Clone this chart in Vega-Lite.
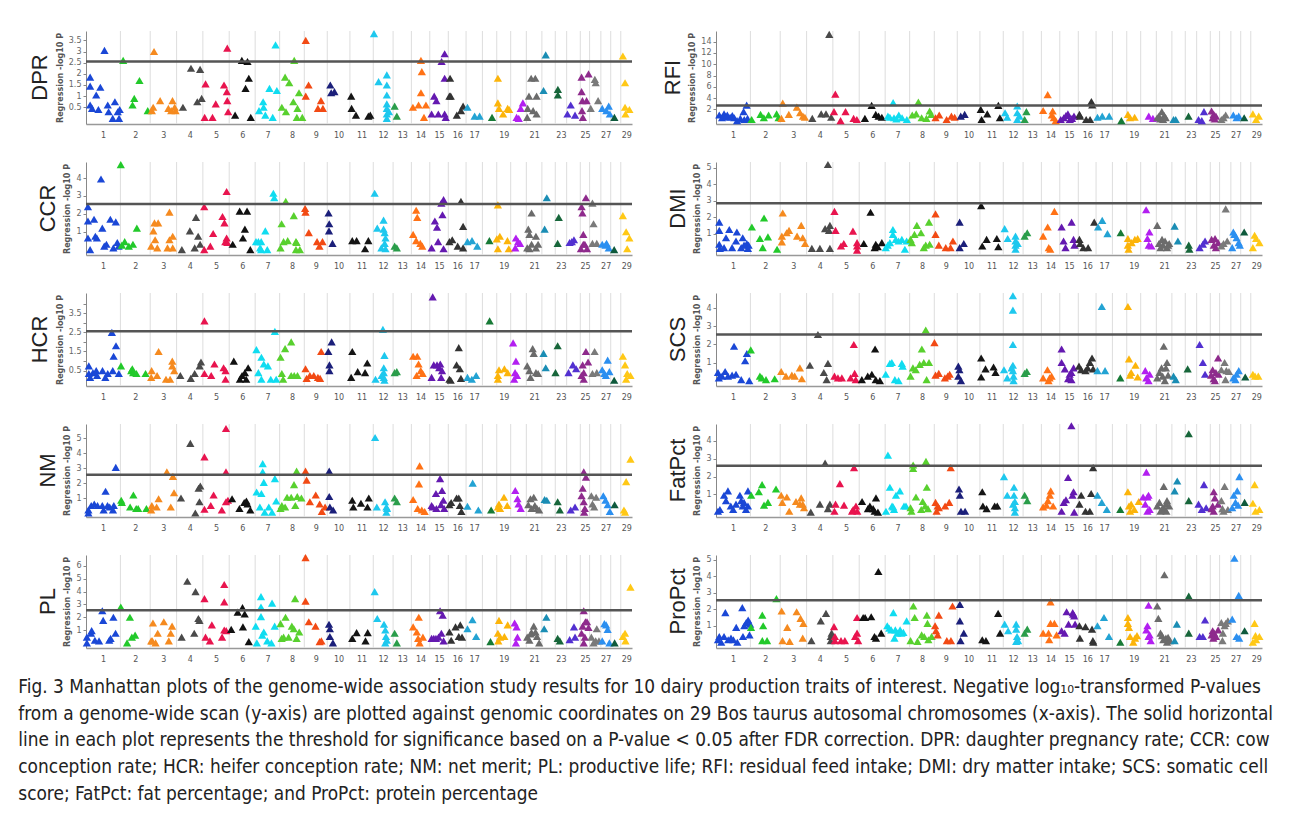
{
"$schema":"https://vega.github.io/schema/vega-lite/v6.json",
"background":"white",
"padding":{"left":18,"top":30,"right":5,"bottom":5},
"config":{
 "view":{"stroke":null},
 "point":{"shape":"triangle-up","filled":true,"size":68,"opacity":1},
 "range":{"category":["#1a47d6","#22c92a","#f58a1f","#4a4a4a","#e8144e","#111111","#10dcf0","#58d02e","#f24a14","#1b1f7a","#151515","#1ec8ee","#2a9d4a","#ff7216","#6419b0","#333333","#23a3d3","#177a36","#fcb40a","#b21ff0","#6b6b6b","#1a8db4","#17663a","#5230d0","#8e2a8c","#7a7a7a","#2b8ff0","#0e5a3c","#ffc816"]},
 "title":{"orient":"left","anchor":"middle","frame":"group","fontSize":22,"font":"Liberation Sans","fontWeight":"normal","color":"#222222","offset":4},
 "axisY":{"labelFont":"DejaVu Sans","labelFontSize":8,"labelColor":"#666666","labelOverlap":false,"tickSize":3,"tickColor":"#888888","domainColor":"#888888","titleFont":"DejaVu Sans","titleFontSize":8,"titleFontWeight":"bold","titleColor":"#555555","grid":false,"titlePadding":4,"labelPadding":2},
 "axisX":{"labelFont":"DejaVu Sans","labelFontSize":8,"labelColor":"#555555","ticks":false,"domainColor":"#999999","domainWidth":1.5,"grid":false,"labelPadding":7,"labelOverlap":false,"labelFlush":false,"title":null}
},
"title":{"text":["Fig. 3 Manhattan plots of the genome-wide association study results for 10 dairy production traits of interest. Negative log₁₀-transformed P-values","from a genome-wide scan (y-axis) are plotted against genomic coordinates on 29 Bos taurus autosomal chromosomes (x-axis). The solid horizontal","line in each plot represents the threshold for significance based on a P-value < 0.05 after FDR correction. DPR: daughter pregnancy rate; CCR: cow","conception rate; HCR: heifer conception rate; NM: net merit; PL: productive life; RFI: residual feed intake; DMI: dry matter intake; SCS: somatic cell","score; FatPct: fat percentage; and ProPct: protein percentage"],"orient":"bottom","anchor":"start","frame":"bounds","font":"DejaVu Sans Condensed","fontSize":18.9,"fontWeight":"normal","color":"#222222","lineHeight":26.7,"offset":15,"dx":-11},
"datasets":{
"bounds":[{"x":158.3},{"x":295.4},{"x":416.8},{"x":537.6},{"x":658.8},{"x":778.3},{"x":890.9},{"x":1004.3},{"x":1110},{"x":1214.3},{"x":1321.6},{"x":1412.8},{"x":1497},{"x":1581.6},{"x":1666.9},{"x":1748.6},{"x":1823.8},{"x":1889.8},{"x":1953.9},{"x":2025.9},{"x":2097.5},{"x":2158.9},{"x":2211.4},{"x":2274.1},{"x":2317},{"x":2368.7},{"x":2414.1},{"x":2460.4}],
"DPR":[{"c":1,"x":19,"v":1.85},{"c":1,"x":19,"v":1.45},{"c":1,"x":66,"v":1.4},{"c":1,"x":47,"v":1.05},{"c":1,"x":19,"v":0.6},{"c":1,"x":28,"v":0.45},{"c":1,"x":57,"v":0.4},{"c":1,"x":85,"v":3.05},{"c":1,"x":100,"v":0.6},{"c":1,"x":104,"v":0.3},{"c":1,"x":133,"v":0.75},{"c":1,"x":123,"v":0},{"c":1,"x":152,"v":0},{"c":1,"x":155,"v":0.4},{"c":1,"x":146,"v":0.3},
{"c":2,"x":171,"v":2.6},{"c":2,"x":214,"v":0.6},{"c":2,"x":222,"v":0.9},{"c":2,"x":246,"v":1.7},{"c":2,"x":284,"v":0.35},
{"c":3,"x":313,"v":3.0},{"c":3,"x":303,"v":0.35},{"c":3,"x":309,"v":0.5},{"c":3,"x":341,"v":0.8},{"c":3,"x":379,"v":0.45},{"c":3,"x":398,"v":0.8},{"c":3,"x":408,"v":0.5},{"c":3,"x":412,"v":0.35},{"c":3,"x":392,"v":0.35},
{"c":4,"x":446,"v":0.5},{"c":4,"x":483,"v":2.25},{"c":4,"x":525,"v":2.2},{"c":4,"x":512,"v":0.75},{"c":4,"x":532,"v":0.9},
{"c":5,"x":550,"v":1.55},{"c":5,"x":546,"v":0.05},{"c":5,"x":582,"v":0.05},{"c":5,"x":597,"v":0.65},{"c":5,"x":635,"v":1.5},{"c":5,"x":650,"v":3.15},{"c":5,"x":648,"v":1.2},{"c":5,"x":650,"v":0.8},{"c":5,"x":654,"v":0.3},
{"c":6,"x":686,"v":0.15},{"c":6,"x":717,"v":2.6},{"c":6,"x":743,"v":2.55},{"c":6,"x":734,"v":1.35},{"c":6,"x":749,"v":1.8},{"c":6,"x":758,"v":0.05},
{"c":7,"x":796,"v":0.35},{"c":7,"x":815,"v":0.75},{"c":7,"x":817,"v":0.5},{"c":7,"x":825,"v":0.15},{"c":7,"x":844,"v":1.35},{"c":7,"x":859,"v":0.05},{"c":7,"x":872,"v":3.3},{"c":7,"x":878,"v":1.25},
{"c":8,"x":901,"v":0.5},{"c":8,"x":916,"v":1.85},{"c":8,"x":935,"v":1.6},{"c":8,"x":920,"v":0.3},{"c":8,"x":954,"v":0.75},{"c":8,"x":958,"v":2.6},{"c":8,"x":973,"v":0.45},{"c":8,"x":980,"v":1.15},{"c":8,"x":970,"v":0.05},{"c":8,"x":995,"v":0.05},
{"c":9,"x":1011,"v":3.5},{"c":9,"x":1011,"v":1.0},{"c":9,"x":1024,"v":1.5},{"c":9,"x":1067,"v":0.45},{"c":9,"x":1081,"v":0.8},{"c":9,"x":1090,"v":0.45},
{"c":10,"x":1124,"v":1.5},{"c":10,"x":1128,"v":1.15},{"c":10,"x":1143,"v":1.2},
{"c":11,"x":1220,"v":1.0},{"c":11,"x":1222,"v":0.45},{"c":11,"x":1242,"v":0.15},{"c":11,"x":1299,"v":0.1},{"c":11,"x":1308,"v":0.15},
{"c":12,"x":1325,"v":3.8},{"c":12,"x":1346,"v":1.65},{"c":12,"x":1384,"v":1.95},{"c":12,"x":1384,"v":1.5},{"c":12,"x":1384,"v":1.05},{"c":12,"x":1384,"v":0.65},{"c":12,"x":1384,"v":0.45},{"c":12,"x":1384,"v":0.2},{"c":12,"x":1384,"v":0},{"c":12,"x":1394,"v":0.3},
{"c":13,"x":1420,"v":0.55},{"c":13,"x":1430,"v":0.1},
{"c":14,"x":1504,"v":0.5},{"c":14,"x":1530,"v":0.6},{"c":14,"x":1541,"v":2.6},{"c":14,"x":1545,"v":2.1},{"c":14,"x":1541,"v":1.15},{"c":14,"x":1555,"v":0.05},{"c":14,"x":1564,"v":0.6},
{"c":15,"x":1590,"v":0.2},{"c":15,"x":1602,"v":1.0},{"c":15,"x":1612,"v":0.8},{"c":15,"x":1621,"v":0.2},{"c":15,"x":1636,"v":2.55},{"c":15,"x":1650,"v":2.9},{"c":15,"x":1650,"v":1.8},{"c":15,"x":1650,"v":0.2},{"c":15,"x":1655,"v":0.05},
{"c":16,"x":1672,"v":1.0},{"c":16,"x":1678,"v":1.0},{"c":16,"x":1675,"v":1.8},{"c":16,"x":1706,"v":0.15},{"c":16,"x":1725,"v":0.35},{"c":16,"x":1735,"v":0.55},
{"c":17,"x":1755,"v":0.5},{"c":17,"x":1788,"v":0.1},{"c":17,"x":1811,"v":0.1},
{"c":18,"x":1868,"v":0.05},
{"c":19,"x":1895,"v":1.8},{"c":19,"x":1895,"v":0.7},{"c":19,"x":1900,"v":0.45},{"c":19,"x":1919,"v":0.2},{"c":19,"x":1940,"v":0.45},{"c":19,"x":1947,"v":0.4},
{"c":20,"x":1991,"v":0},{"c":20,"x":2000,"v":0.45},{"c":20,"x":2010,"v":0.7},{"c":20,"x":1981,"v":0.05},
{"c":21,"x":2032,"v":0.45},{"c":21,"x":2038,"v":1.0},{"c":21,"x":2048,"v":1.8},{"c":21,"x":2067,"v":1.8},{"c":21,"x":2057,"v":0.35},{"c":21,"x":2073,"v":1.0},{"c":21,"x":2073,"v":0.2},{"c":21,"x":2030,"v":0.05},
{"c":22,"x":2105,"v":1.25},{"c":22,"x":2115,"v":2.85},
{"c":23,"x":2171,"v":1.3},{"c":23,"x":2171,"v":1.05},
{"c":24,"x":2215,"v":0.2},{"c":24,"x":2230,"v":0.6},{"c":24,"x":2250,"v":0.15},
{"c":25,"x":2280,"v":1.85},{"c":25,"x":2280,"v":1.2},{"c":25,"x":2284,"v":0.8},{"c":25,"x":2282,"v":0.35},{"c":25,"x":2286,"v":0.05},{"c":25,"x":2303,"v":0.8},{"c":25,"x":2312,"v":2.0},
{"c":26,"x":2322,"v":0.45},{"c":26,"x":2341,"v":1.75},{"c":26,"x":2345,"v":1.6},{"c":26,"x":2356,"v":0.8},
{"c":27,"x":2375,"v":0.45},{"c":27,"x":2394,"v":0.35},{"c":27,"x":2405,"v":0.55},{"c":27,"x":2410,"v":0.2},
{"c":28,"x":2431,"v":0.05},
{"c":29,"x":2470,"v":2.8},{"c":29,"x":2480,"v":1.6},{"c":29,"x":2480,"v":0.5},{"c":29,"x":2482,"v":0.2},{"c":29,"x":2500,"v":0.4}],
"RFI":[{"c":1,"x":15,"v":1.0},{"c":1,"x":28,"v":0.5},{"c":1,"x":37,"v":1.2},{"c":1,"x":45,"v":0.7},{"c":1,"x":52,"v":1.0},{"c":1,"x":65,"v":0.6},{"c":1,"x":75,"v":0.9},{"c":1,"x":84,"v":0.5},{"c":1,"x":97,"v":0},{"c":1,"x":112,"v":0.4},{"c":1,"x":127,"v":1.6},{"c":1,"x":130,"v":0.2},{"c":1,"x":141,"v":2.75},{"c":1,"x":145,"v":0.4},
{"c":2,"x":164,"v":0.2},{"c":2,"x":205,"v":1.1},{"c":2,"x":220,"v":0.5},{"c":2,"x":242,"v":1.0},{"c":2,"x":279,"v":1.2},{"c":2,"x":288,"v":0.5},
{"c":3,"x":301,"v":0.4},{"c":3,"x":307,"v":3.1},{"c":3,"x":335,"v":1.1},{"c":3,"x":372,"v":2.4},{"c":3,"x":387,"v":1.4},{"c":3,"x":400,"v":0.8},{"c":3,"x":409,"v":0.6},
{"c":4,"x":443,"v":0.4},{"c":4,"x":484,"v":1.2},{"c":4,"x":506,"v":1.2},{"c":4,"x":521,"v":15.3},{"c":4,"x":530,"v":0.6},
{"c":5,"x":543,"v":1.6},{"c":5,"x":549,"v":4.7},{"c":5,"x":573,"v":0},{"c":5,"x":596,"v":1.6},{"c":5,"x":633,"v":0.4},{"c":5,"x":648,"v":0.2},
{"c":6,"x":685,"v":0.4},{"c":6,"x":716,"v":2.7},{"c":6,"x":735,"v":1.1},{"c":6,"x":748,"v":0.8},{"c":6,"x":763,"v":0.6},
{"c":7,"x":791,"v":0.8},{"c":7,"x":800,"v":0.6},{"c":7,"x":815,"v":3.2},{"c":7,"x":819,"v":0.5},{"c":7,"x":830,"v":0.3},{"c":7,"x":841,"v":1.0},{"c":7,"x":856,"v":0.5},{"c":7,"x":878,"v":0.2},
{"c":8,"x":903,"v":1.0},{"c":8,"x":921,"v":1.2},{"c":8,"x":931,"v":3.3},{"c":8,"x":946,"v":0.5},{"c":8,"x":968,"v":0.4},{"c":8,"x":983,"v":1.7},{"c":8,"x":990,"v":1.1},
{"c":9,"x":1010,"v":0.5},{"c":9,"x":1027,"v":1.0},{"c":9,"x":1061,"v":0.2},{"c":9,"x":1083,"v":0.8},{"c":9,"x":1098,"v":0.6},
{"c":10,"x":1126,"v":0.8},{"c":10,"x":1144,"v":1.1},
{"c":11,"x":1218,"v":2.0},{"c":11,"x":1222,"v":0.2},{"c":11,"x":1248,"v":1.2},{"c":11,"x":1299,"v":2.7},{"c":11,"x":1306,"v":0.5},
{"c":12,"x":1330,"v":1.4},{"c":12,"x":1340,"v":0.6},{"c":12,"x":1386,"v":2.6},{"c":12,"x":1386,"v":1.4},{"c":12,"x":1386,"v":0.2},{"c":12,"x":1396,"v":0.8},
{"c":13,"x":1420,"v":0.2},{"c":13,"x":1428,"v":1.6},
{"c":14,"x":1505,"v":1.8},{"c":14,"x":1526,"v":4.6},{"c":14,"x":1545,"v":1.0},{"c":14,"x":1549,"v":1.7},{"c":14,"x":1554,"v":0.5},{"c":14,"x":1563,"v":0},
{"c":15,"x":1586,"v":0.2},{"c":15,"x":1600,"v":0.5},{"c":15,"x":1610,"v":0.9},{"c":15,"x":1619,"v":1.2},{"c":15,"x":1628,"v":0.2},{"c":15,"x":1638,"v":0.4},{"c":15,"x":1647,"v":0.8},
{"c":16,"x":1672,"v":1.1},{"c":16,"x":1675,"v":0.8},{"c":16,"x":1703,"v":0.2},{"c":16,"x":1721,"v":0.2},{"c":16,"x":1727,"v":3.4},{"c":16,"x":1731,"v":2.8},
{"c":17,"x":1755,"v":0.6},{"c":17,"x":1777,"v":0.8},{"c":17,"x":1809,"v":0.8},
{"c":18,"x":1865,"v":0},
{"c":19,"x":1895,"v":1.1},{"c":19,"x":1905,"v":0.5},{"c":19,"x":1926,"v":0.6},
{"c":20,"x":1991,"v":0.8},{"c":20,"x":2010,"v":0.4},
{"c":21,"x":2030,"v":0.5},{"c":21,"x":2038,"v":0.8},{"c":21,"x":2045,"v":0.3},{"c":21,"x":2051,"v":1.6},{"c":21,"x":2057,"v":0.2},{"c":21,"x":2062,"v":0.9},{"c":21,"x":2069,"v":0.5},
{"c":22,"x":2105,"v":0.2},{"c":22,"x":2115,"v":0.2},
{"c":23,"x":2174,"v":0.8},
{"c":24,"x":2220,"v":0.2},{"c":24,"x":2245,"v":1.6},{"c":24,"x":2235,"v":0},
{"c":25,"x":2280,"v":1.7},{"c":25,"x":2285,"v":0.5},{"c":25,"x":2290,"v":1.1},{"c":25,"x":2295,"v":0.3},{"c":25,"x":2300,"v":0.8},
{"c":26,"x":2325,"v":0.2},{"c":26,"x":2345,"v":1.0},{"c":26,"x":2335,"v":0.5},
{"c":27,"x":2380,"v":1.0},{"c":27,"x":2395,"v":0.5},{"c":27,"x":2405,"v":0.8},
{"c":28,"x":2430,"v":0.5},
{"c":29,"x":2470,"v":1.2},{"c":29,"x":2485,"v":0.2},{"c":29,"x":2497,"v":0.8}],
"CCR":[{"c":1,"x":9,"v":2.4},{"c":1,"x":9,"v":1.6},{"c":1,"x":9,"v":0.65},{"c":1,"x":19,"v":0},{"c":1,"x":37,"v":1.7},{"c":1,"x":43,"v":0.75},{"c":1,"x":50,"v":0.65},{"c":1,"x":69,"v":3.95},{"c":1,"x":75,"v":1.2},{"c":1,"x":84,"v":0.2},{"c":1,"x":94,"v":0.3},{"c":1,"x":112,"v":1.7},{"c":1,"x":126,"v":0.1},{"c":1,"x":137,"v":1.55},{"c":1,"x":144,"v":0.4},{"c":1,"x":150,"v":0.2},
{"c":2,"x":160,"v":4.75},{"c":2,"x":165,"v":0.25},{"c":2,"x":178,"v":0.45},{"c":2,"x":197,"v":0.2},{"c":2,"x":234,"v":1.2},{"c":2,"x":216,"v":0.3},
{"c":3,"x":300,"v":0.2},{"c":3,"x":310,"v":1.05},{"c":3,"x":315,"v":1.5},{"c":3,"x":318,"v":0.55},{"c":3,"x":332,"v":1.5},{"c":3,"x":328,"v":0.1},{"c":3,"x":384,"v":2.1},{"c":3,"x":384,"v":0.55},{"c":3,"x":399,"v":0.75},{"c":3,"x":375,"v":0.1},{"c":3,"x":399,"v":0.1},
{"c":4,"x":441,"v":0},{"c":4,"x":478,"v":1.05},{"c":4,"x":506,"v":1.8},{"c":4,"x":516,"v":0.75},{"c":4,"x":500,"v":0.1},{"c":4,"x":525,"v":0.3},
{"c":5,"x":544,"v":2.4},{"c":5,"x":544,"v":0},{"c":5,"x":572,"v":0.2},{"c":5,"x":585,"v":0.9},{"c":5,"x":628,"v":1.85},{"c":5,"x":637,"v":1.5},{"c":5,"x":647,"v":3.25},{"c":5,"x":641,"v":0.45},{"c":5,"x":650,"v":0.4},{"c":5,"x":647,"v":0.65},
{"c":6,"x":675,"v":0.3},{"c":6,"x":707,"v":2.15},{"c":6,"x":741,"v":2.15},{"c":6,"x":731,"v":1.15},{"c":6,"x":722,"v":0.65},{"c":6,"x":756,"v":0},
{"c":7,"x":782,"v":0.45},{"c":7,"x":793,"v":0.45},{"c":7,"x":806,"v":0.45},{"c":7,"x":801,"v":0.1},{"c":7,"x":825,"v":1.05},{"c":7,"x":834,"v":0},{"c":7,"x":862,"v":3.15},{"c":7,"x":866,"v":2.9},{"c":7,"x":806,"v":0},
{"c":8,"x":895,"v":0.1},{"c":8,"x":900,"v":1.45},{"c":8,"x":909,"v":0.45},{"c":8,"x":919,"v":2.7},{"c":8,"x":928,"v":0.5},{"c":8,"x":956,"v":1.9},{"c":8,"x":966,"v":0.45},{"c":8,"x":966,"v":0},{"c":8,"x":984,"v":0},{"c":8,"x":969,"v":0.4},
{"c":9,"x":1008,"v":2.3},{"c":9,"x":1010,"v":2.1},{"c":9,"x":1025,"v":0.95},{"c":9,"x":1063,"v":0.45},{"c":9,"x":1074,"v":0.2},{"c":9,"x":1088,"v":0.45},
{"c":10,"x":1116,"v":2.05},{"c":10,"x":1119,"v":1.45},{"c":10,"x":1118,"v":1.05},{"c":10,"x":1134,"v":0.35},
{"c":11,"x":1225,"v":0.5},{"c":11,"x":1245,"v":0.5},{"c":11,"x":1284,"v":0.05},{"c":11,"x":1299,"v":0.5},
{"c":12,"x":1328,"v":3.15},{"c":12,"x":1340,"v":1.2},{"c":12,"x":1369,"v":1.65},{"c":12,"x":1369,"v":1.15},{"c":12,"x":1374,"v":0.95},{"c":12,"x":1378,"v":0.65},{"c":12,"x":1374,"v":0.35},{"c":12,"x":1378,"v":0.05},{"c":12,"x":1359,"v":0.1},
{"c":13,"x":1420,"v":0.2},{"c":13,"x":1430,"v":0.1},
{"c":14,"x":1505,"v":0.85},{"c":14,"x":1519,"v":2.2},{"c":14,"x":1524,"v":1.8},{"c":14,"x":1519,"v":0.5},{"c":14,"x":1538,"v":0.35},{"c":14,"x":1547,"v":0.2},
{"c":15,"x":1590,"v":0.1},{"c":15,"x":1605,"v":1.6},{"c":15,"x":1615,"v":1.25},{"c":15,"x":1620,"v":0.45},{"c":15,"x":1635,"v":2.6},{"c":15,"x":1645,"v":2.8},{"c":15,"x":1640,"v":1.95},{"c":15,"x":1645,"v":0.05},
{"c":16,"x":1672,"v":0.45},{"c":16,"x":1685,"v":0.55},{"c":16,"x":1710,"v":0.2},{"c":16,"x":1725,"v":2.7},{"c":16,"x":1735,"v":1.3},{"c":16,"x":1735,"v":0.1},
{"c":17,"x":1755,"v":0.45},{"c":17,"x":1776,"v":0.5},{"c":17,"x":1800,"v":0.2},
{"c":18,"x":1856,"v":0.5},
{"c":19,"x":1895,"v":2.5},{"c":19,"x":1890,"v":0.6},{"c":19,"x":1904,"v":0.75},{"c":19,"x":1939,"v":0.5},{"c":19,"x":1895,"v":0.05},{"c":19,"x":1945,"v":0.05},
{"c":20,"x":1978,"v":0.65},{"c":20,"x":1975,"v":0.1},{"c":20,"x":1988,"v":0.45},{"c":20,"x":1997,"v":0.35},
{"c":21,"x":2035,"v":1.15},{"c":21,"x":2050,"v":2.05},{"c":21,"x":2040,"v":0.85},{"c":21,"x":2070,"v":0.75},{"c":21,"x":2050,"v":0.3},{"c":21,"x":2040,"v":0.05},{"c":21,"x":2080,"v":0.3},{"c":21,"x":2070,"v":0.1},{"c":21,"x":2030,"v":0.1},
{"c":22,"x":2110,"v":1.15},{"c":22,"x":2120,"v":2.9},
{"c":23,"x":2175,"v":1.8},{"c":23,"x":2170,"v":0.35},
{"c":24,"x":2225,"v":0.4},{"c":24,"x":2245,"v":0.55},{"c":24,"x":2235,"v":0.45},
{"c":25,"x":2280,"v":2.4},{"c":25,"x":2284,"v":2.05},{"c":25,"x":2288,"v":0.85},{"c":25,"x":2288,"v":0.3},{"c":25,"x":2277,"v":0.05},{"c":25,"x":2300,"v":2.9},{"c":25,"x":2305,"v":0.05},{"c":25,"x":2295,"v":0.3},
{"c":26,"x":2330,"v":2.6},{"c":26,"x":2335,"v":1.45},{"c":26,"x":2330,"v":0.35},{"c":26,"x":2350,"v":0.35},
{"c":27,"x":2375,"v":0.3},{"c":27,"x":2390,"v":0.25},{"c":27,"x":2405,"v":0.1},{"c":27,"x":2395,"v":0.35},
{"c":28,"x":2430,"v":0},
{"c":29,"x":2470,"v":1.9},{"c":29,"x":2485,"v":1.0},{"c":29,"x":2500,"v":0.65},{"c":29,"x":2490,"v":0.05}],
"DMI":[{"c":1,"x":15,"v":1.7},{"c":1,"x":15,"v":1.2},{"c":1,"x":15,"v":0.35},{"c":1,"x":18,"v":0.1},{"c":1,"x":37,"v":0.15},{"c":1,"x":46,"v":0.75},{"c":1,"x":61,"v":1.25},{"c":1,"x":74,"v":0.15},{"c":1,"x":96,"v":1.1},{"c":1,"x":92,"v":0.55},{"c":1,"x":116,"v":0.15},{"c":1,"x":123,"v":0.75},{"c":1,"x":129,"v":0.3},{"c":1,"x":142,"v":0.4},{"c":1,"x":150,"v":0.3},{"c":1,"x":147,"v":0.1},
{"c":2,"x":165,"v":1.4},{"c":2,"x":202,"v":0.7},{"c":2,"x":221,"v":1.95},{"c":2,"x":215,"v":0.15},{"c":2,"x":239,"v":0.8},{"c":2,"x":281,"v":0.05},
{"c":3,"x":303,"v":0.85},{"c":3,"x":307,"v":2.25},{"c":3,"x":303,"v":0.5},{"c":3,"x":336,"v":1.2},{"c":3,"x":325,"v":1.05},{"c":3,"x":373,"v":0.85},{"c":3,"x":392,"v":1.5},{"c":3,"x":399,"v":0.75},{"c":3,"x":410,"v":0.4},
{"c":4,"x":441,"v":0.1},{"c":4,"x":478,"v":0.1},{"c":4,"x":502,"v":1.3},{"c":4,"x":515,"v":5.2},{"c":4,"x":524,"v":1.5},{"c":4,"x":524,"v":0.1},{"c":4,"x":520,"v":1.2},
{"c":5,"x":545,"v":2.35},{"c":5,"x":550,"v":1.2},{"c":5,"x":575,"v":0.25},{"c":5,"x":588,"v":0.4},{"c":5,"x":630,"v":1.15},{"c":5,"x":649,"v":0.25},{"c":5,"x":649,"v":0},{"c":5,"x":649,"v":0.45},
{"c":6,"x":680,"v":0.4},{"c":6,"x":711,"v":2.3},{"c":6,"x":735,"v":0.35},{"c":6,"x":730,"v":0.15},{"c":6,"x":744,"v":0.2},{"c":6,"x":763,"v":0.45},
{"c":7,"x":781,"v":0.15},{"c":7,"x":790,"v":0.3},{"c":7,"x":800,"v":0.45},{"c":7,"x":814,"v":1.25},{"c":7,"x":814,"v":0.95},{"c":7,"x":827,"v":0.65},{"c":7,"x":840,"v":0.55},{"c":7,"x":855,"v":0.65},{"c":7,"x":869,"v":0.05},{"c":7,"x":877,"v":0.55},
{"c":8,"x":895,"v":0.65},{"c":8,"x":901,"v":0.45},{"c":8,"x":913,"v":0.95},{"c":8,"x":924,"v":1.5},{"c":8,"x":943,"v":1.05},{"c":8,"x":956,"v":0.15},{"c":8,"x":965,"v":0.3},{"c":8,"x":980,"v":1.7},{"c":8,"x":983,"v":0.35},
{"c":9,"x":1010,"v":2.2},{"c":9,"x":1010,"v":0.95},{"c":9,"x":1025,"v":0.3},{"c":9,"x":1057,"v":0.15},{"c":9,"x":1079,"v":0.15},{"c":9,"x":1090,"v":0.55},
{"c":10,"x":1121,"v":1.7},{"c":10,"x":1121,"v":0.15},{"c":10,"x":1140,"v":0.4},
{"c":11,"x":1220,"v":2.7},{"c":11,"x":1225,"v":0.25},{"c":11,"x":1245,"v":0.65},{"c":11,"x":1292,"v":0.7},{"c":11,"x":1299,"v":0.2},
{"c":12,"x":1328,"v":1.3},{"c":12,"x":1342,"v":0.7},{"c":12,"x":1378,"v":0.85},{"c":12,"x":1378,"v":0.55},{"c":12,"x":1378,"v":0.3},{"c":12,"x":1378,"v":0.05},{"c":12,"x":1388,"v":0.4},
{"c":13,"x":1420,"v":0.85},{"c":13,"x":1432,"v":1.05},
{"c":14,"x":1505,"v":0.85},{"c":14,"x":1526,"v":1.4},{"c":14,"x":1531,"v":0.15},{"c":14,"x":1538,"v":0.05},{"c":14,"x":1557,"v":2.35},
{"c":15,"x":1590,"v":1.4},{"c":15,"x":1599,"v":0.55},{"c":15,"x":1608,"v":0.15},{"c":15,"x":1636,"v":1.7},{"c":15,"x":1645,"v":0.65},{"c":15,"x":1649,"v":0.3},
{"c":16,"x":1672,"v":0.65},{"c":16,"x":1675,"v":0.4},{"c":16,"x":1690,"v":0.15},{"c":16,"x":1712,"v":0.15},{"c":16,"x":1740,"v":1.7},
{"c":17,"x":1758,"v":1.4},{"c":17,"x":1777,"v":1.8},{"c":17,"x":1801,"v":1.0},
{"c":18,"x":1862,"v":1.05},
{"c":19,"x":1895,"v":0.7},{"c":19,"x":1895,"v":0.3},{"c":19,"x":1898,"v":0.05},{"c":19,"x":1912,"v":0.45},{"c":19,"x":1927,"v":0.65},{"c":19,"x":1940,"v":0.7},
{"c":20,"x":1979,"v":2.45},{"c":20,"x":1985,"v":0.7},{"c":20,"x":1994,"v":1.1},{"c":20,"x":1991,"v":0.3},{"c":20,"x":2003,"v":0.25},
{"c":21,"x":2030,"v":1.5},{"c":21,"x":2038,"v":0.4},{"c":21,"x":2045,"v":0.15},{"c":21,"x":2052,"v":0.65},{"c":21,"x":2057,"v":0.3},{"c":21,"x":2066,"v":0.55},{"c":21,"x":2075,"v":0.15},{"c":21,"x":2080,"v":0.3},{"c":21,"x":2085,"v":0.4},
{"c":22,"x":2110,"v":1.45},{"c":22,"x":2125,"v":0.55},
{"c":23,"x":2175,"v":0.3},{"c":23,"x":2178,"v":0.05},
{"c":24,"x":2225,"v":0.15},{"c":24,"x":2240,"v":0.35},{"c":24,"x":2250,"v":0.55},
{"c":25,"x":2280,"v":0.65},{"c":25,"x":2290,"v":0.3},{"c":25,"x":2296,"v":0.7},{"c":25,"x":2300,"v":0.15},{"c":25,"x":2310,"v":0.45},
{"c":26,"x":2325,"v":0.25},{"c":26,"x":2345,"v":2.5},{"c":26,"x":2352,"v":0.55},{"c":26,"x":2335,"v":0.4},
{"c":27,"x":2375,"v":0.15},{"c":27,"x":2380,"v":1.1},{"c":27,"x":2385,"v":0.95},{"c":27,"x":2395,"v":0.75},{"c":27,"x":2405,"v":0.45},{"c":27,"x":2410,"v":0.3},
{"c":28,"x":2430,"v":1.1},
{"c":29,"x":2470,"v":0.15},{"c":29,"x":2478,"v":0.9},{"c":29,"x":2485,"v":0.7},{"c":29,"x":2500,"v":0.45}],
"HCR":[{"c":1,"x":13,"v":0.75},{"c":1,"x":13,"v":0.35},{"c":1,"x":19,"v":0.15},{"c":1,"x":32,"v":0.4},{"c":1,"x":47,"v":0.5},{"c":1,"x":51,"v":0.25},{"c":1,"x":76,"v":0.5},{"c":1,"x":89,"v":0.15},{"c":1,"x":100,"v":0.35},{"c":1,"x":119,"v":2.5},{"c":1,"x":127,"v":1.25},{"c":1,"x":138,"v":1.8},{"c":1,"x":123,"v":0.5},{"c":1,"x":151,"v":0.35},
{"c":2,"x":161,"v":0.75},{"c":2,"x":208,"v":0.5},{"c":2,"x":217,"v":0.4},{"c":2,"x":232,"v":0.35},{"c":2,"x":274,"v":0.35},{"c":2,"x":213,"v":0.6},
{"c":3,"x":302,"v":0.5},{"c":3,"x":300,"v":0.15},{"c":3,"x":327,"v":0.25},{"c":3,"x":334,"v":1.5},{"c":3,"x":368,"v":0.05},{"c":3,"x":387,"v":0.05},{"c":3,"x":397,"v":1.0},{"c":3,"x":397,"v":0.75},{"c":3,"x":406,"v":0.5},
{"c":4,"x":434,"v":0.25},{"c":4,"x":482,"v":0.1},{"c":4,"x":500,"v":0.35},{"c":4,"x":529,"v":0.95},{"c":4,"x":523,"v":0.75},
{"c":5,"x":545,"v":3.1},{"c":5,"x":545,"v":0.35},{"c":5,"x":576,"v":0.25},{"c":5,"x":591,"v":0.85},{"c":5,"x":633,"v":0.65},{"c":5,"x":642,"v":0.5},{"c":5,"x":642,"v":0.05},
{"c":6,"x":680,"v":1.0},{"c":6,"x":708,"v":0.05},{"c":6,"x":718,"v":0.25},{"c":6,"x":731,"v":0.4},{"c":6,"x":746,"v":0.65},{"c":6,"x":737,"v":0.05},
{"c":7,"x":784,"v":1.6},{"c":7,"x":793,"v":0.4},{"c":7,"x":807,"v":1.2},{"c":7,"x":807,"v":0.05},{"c":7,"x":818,"v":0.85},{"c":7,"x":837,"v":0.75},{"c":7,"x":850,"v":0.05},{"c":7,"x":869,"v":2.55},{"c":7,"x":875,"v":0.05},
{"c":8,"x":895,"v":1.2},{"c":8,"x":901,"v":0.35},{"c":8,"x":916,"v":1.65},{"c":8,"x":907,"v":0.05},{"c":8,"x":944,"v":2.0},{"c":8,"x":944,"v":0.25},{"c":8,"x":958,"v":0.25},{"c":8,"x":973,"v":0.25},
{"c":9,"x":1010,"v":0.6},{"c":9,"x":1015,"v":0.1},{"c":9,"x":1030,"v":0.25},{"c":9,"x":1048,"v":0.25},{"c":9,"x":1067,"v":0.15},{"c":9,"x":1077,"v":0.1},{"c":9,"x":1082,"v":1.5},
{"c":10,"x":1115,"v":1.5},{"c":10,"x":1120,"v":0.8},{"c":10,"x":1120,"v":0.5},{"c":10,"x":1130,"v":2.0},
{"c":11,"x":1220,"v":0.15},{"c":11,"x":1225,"v":1.5},{"c":11,"x":1250,"v":0.45},{"c":11,"x":1294,"v":0.9},{"c":11,"x":1284,"v":0.4},
{"c":12,"x":1332,"v":0.05},{"c":12,"x":1366,"v":2.65},{"c":12,"x":1373,"v":1.3},{"c":12,"x":1370,"v":0.65},{"c":12,"x":1370,"v":0.4},{"c":12,"x":1370,"v":0.15},{"c":12,"x":1360,"v":0.25},{"c":12,"x":1373,"v":0},
{"c":13,"x":1420,"v":0.4},{"c":13,"x":1430,"v":0.45},
{"c":14,"x":1505,"v":1.25},{"c":14,"x":1524,"v":1.25},{"c":14,"x":1530,"v":0.85},{"c":14,"x":1540,"v":0.5},{"c":14,"x":1521,"v":0.25},{"c":14,"x":1549,"v":0.35},
{"c":15,"x":1595,"v":4.35},{"c":15,"x":1590,"v":0.15},{"c":15,"x":1600,"v":0.8},{"c":15,"x":1615,"v":0.8},{"c":15,"x":1625,"v":0.65},{"c":15,"x":1630,"v":0.85},{"c":15,"x":1638,"v":0.5},{"c":15,"x":1634,"v":0.15},
{"c":16,"x":1672,"v":0.05},{"c":16,"x":1678,"v":0},{"c":16,"x":1705,"v":0.8},{"c":16,"x":1715,"v":1.7},{"c":16,"x":1720,"v":0.6},{"c":16,"x":1725,"v":0.1},
{"c":17,"x":1755,"v":0.15},{"c":17,"x":1775,"v":0.05},{"c":17,"x":1795,"v":0.25},
{"c":18,"x":1857,"v":3.1},
{"c":19,"x":1895,"v":0.25},{"c":19,"x":1900,"v":0.55},{"c":19,"x":1925,"v":0.6},{"c":19,"x":1940,"v":0.4},{"c":19,"x":1895,"v":0.05},
{"c":20,"x":1965,"v":1.95},{"c":20,"x":1978,"v":1.0},{"c":20,"x":1974,"v":0.4},{"c":20,"x":1970,"v":0.05},{"c":20,"x":1983,"v":0.25},
{"c":21,"x":2030,"v":0.75},{"c":21,"x":2040,"v":0.5},{"c":21,"x":2045,"v":0.15},{"c":21,"x":2055,"v":1.65},{"c":21,"x":2060,"v":1.4},{"c":21,"x":2070,"v":0.4},{"c":21,"x":2080,"v":0.35},
{"c":22,"x":2105,"v":1.4},{"c":22,"x":2115,"v":0.65},
{"c":23,"x":2170,"v":1.8},{"c":23,"x":2160,"v":0.4},
{"c":24,"x":2220,"v":0.4},{"c":24,"x":2240,"v":0.8},{"c":24,"x":2255,"v":0.6},
{"c":25,"x":2280,"v":0.25},{"c":25,"x":2285,"v":0.8},{"c":25,"x":2290,"v":0.4},{"c":25,"x":2290,"v":0.05},{"c":25,"x":2300,"v":1.5},{"c":25,"x":2310,"v":0.95},
{"c":26,"x":2340,"v":1.5},{"c":26,"x":2330,"v":0.35},{"c":26,"x":2350,"v":0.4},
{"c":27,"x":2375,"v":0.55},{"c":27,"x":2385,"v":0.35},{"c":27,"x":2400,"v":1.05},{"c":27,"x":2408,"v":0.45},{"c":27,"x":2392,"v":0.25},
{"c":28,"x":2430,"v":0},
{"c":29,"x":2470,"v":1.25},{"c":29,"x":2480,"v":0.8},{"c":29,"x":2490,"v":0.35},{"c":29,"x":2485,"v":0.05},{"c":29,"x":2505,"v":0.25}],
"SCS":[{"c":1,"x":9,"v":0.45},{"c":1,"x":13,"v":0.15},{"c":1,"x":28,"v":0.25},{"c":1,"x":42,"v":0.5},{"c":1,"x":55,"v":0.25},{"c":1,"x":74,"v":0.3},{"c":1,"x":83,"v":1.9},{"c":1,"x":92,"v":0.35},{"c":1,"x":116,"v":0.05},{"c":1,"x":134,"v":1.1},{"c":1,"x":142,"v":1.5},{"c":1,"x":153,"v":0},
{"c":2,"x":160,"v":1.7},{"c":2,"x":202,"v":0.25},{"c":2,"x":230,"v":0.05},{"c":2,"x":270,"v":0.1},{"c":2,"x":211,"v":0.15},
{"c":3,"x":300,"v":0.5},{"c":3,"x":322,"v":0.25},{"c":3,"x":349,"v":0.3},{"c":3,"x":362,"v":0.25},{"c":3,"x":386,"v":0.7},{"c":3,"x":395,"v":0.1},
{"c":4,"x":432,"v":0.85},{"c":4,"x":469,"v":2.55},{"c":4,"x":496,"v":0.45},{"c":4,"x":509,"v":0.05},{"c":4,"x":515,"v":0.95},
{"c":5,"x":545,"v":0.25},{"c":5,"x":561,"v":0.15},{"c":5,"x":579,"v":0.15},{"c":5,"x":634,"v":2.0},{"c":5,"x":619,"v":0.15},{"c":5,"x":638,"v":0.4},{"c":5,"x":643,"v":0.05},
{"c":6,"x":671,"v":0.05},{"c":6,"x":698,"v":0.25},{"c":6,"x":717,"v":0.35},{"c":6,"x":732,"v":1.75},{"c":6,"x":735,"v":0.05},{"c":6,"x":754,"v":0},
{"c":7,"x":781,"v":0.35},{"c":7,"x":800,"v":0.95},{"c":7,"x":809,"v":1.0},{"c":7,"x":823,"v":0.05},{"c":7,"x":840,"v":0},{"c":7,"x":855,"v":0.95},{"c":7,"x":859,"v":0.8},
{"c":8,"x":895,"v":0.25},{"c":8,"x":906,"v":0.7},{"c":8,"x":919,"v":0.6},{"c":8,"x":937,"v":0.9},{"c":8,"x":947,"v":1.75},{"c":8,"x":956,"v":1.0},{"c":8,"x":965,"v":2.8},{"c":8,"x":969,"v":0.05},{"c":8,"x":980,"v":1.0},
{"c":9,"x":1005,"v":2.1},{"c":9,"x":1010,"v":0.3},{"c":9,"x":1025,"v":0.4},{"c":9,"x":1053,"v":0.15},{"c":9,"x":1066,"v":0.25},{"c":9,"x":1075,"v":0.35},
{"c":10,"x":1115,"v":0.8},{"c":10,"x":1120,"v":0.6},{"c":10,"x":1115,"v":0.25},{"c":10,"x":1127,"v":0},
{"c":11,"x":1220,"v":1.25},{"c":11,"x":1220,"v":0.2},{"c":11,"x":1240,"v":0.65},{"c":11,"x":1277,"v":0.75},{"c":11,"x":1286,"v":0.45},
{"c":12,"x":1325,"v":0.6},{"c":12,"x":1340,"v":0.15},{"c":12,"x":1366,"v":4.7},{"c":12,"x":1366,"v":3.9},{"c":12,"x":1366,"v":2.0},{"c":12,"x":1366,"v":0.85},{"c":12,"x":1366,"v":0.55},{"c":12,"x":1369,"v":0.25},{"c":12,"x":1369,"v":0},{"c":12,"x":1360,"v":0.7},
{"c":13,"x":1420,"v":0.4},{"c":13,"x":1430,"v":0.5},
{"c":14,"x":1505,"v":0.15},{"c":14,"x":1525,"v":0.6},{"c":14,"x":1535,"v":0.15},{"c":14,"x":1544,"v":0.25},{"c":14,"x":1530,"v":0},
{"c":15,"x":1590,"v":1.75},{"c":15,"x":1590,"v":1.0},{"c":15,"x":1605,"v":0.65},{"c":15,"x":1620,"v":0.1},{"c":15,"x":1627,"v":0.35},{"c":15,"x":1635,"v":0.45},{"c":15,"x":1645,"v":0.7},{"c":15,"x":1635,"v":0.05},
{"c":16,"x":1670,"v":0.8},{"c":16,"x":1680,"v":0.6},{"c":16,"x":1700,"v":0.55},{"c":16,"x":1720,"v":1.0},{"c":16,"x":1730,"v":1.25},{"c":16,"x":1735,"v":0.65},{"c":16,"x":1710,"v":0.7},
{"c":17,"x":1755,"v":0.55},{"c":17,"x":1775,"v":4.1},{"c":17,"x":1790,"v":0.55},
{"c":18,"x":1860,"v":0.15},
{"c":19,"x":1895,"v":4.1},{"c":19,"x":1900,"v":1.2},{"c":19,"x":1905,"v":0.3},{"c":19,"x":1910,"v":0.45},{"c":19,"x":1930,"v":0.85},{"c":19,"x":1940,"v":0.2},
{"c":20,"x":1975,"v":0.55},{"c":20,"x":1980,"v":0.15},{"c":20,"x":1990,"v":0},{"c":20,"x":1995,"v":0.35},
{"c":21,"x":2030,"v":0.15},{"c":21,"x":2040,"v":0.45},{"c":21,"x":2050,"v":0.7},{"c":21,"x":2055,"v":0.25},{"c":21,"x":2060,"v":1.9},{"c":21,"x":2065,"v":0},{"c":21,"x":2070,"v":0.7},{"c":21,"x":2075,"v":1.0},{"c":21,"x":2080,"v":0.3},
{"c":22,"x":2105,"v":0.25},{"c":22,"x":2115,"v":0.05},
{"c":23,"x":2170,"v":0.65},
{"c":24,"x":2225,"v":2.0},{"c":24,"x":2240,"v":1.0},{"c":24,"x":2250,"v":0.35},
{"c":25,"x":2278,"v":0.3},{"c":25,"x":2285,"v":0.6},{"c":25,"x":2290,"v":0.1},{"c":25,"x":2295,"v":0},{"c":25,"x":2310,"v":1.25},{"c":25,"x":2312,"v":0.35},{"c":25,"x":2300,"v":0.45},
{"c":26,"x":2325,"v":0.6},{"c":26,"x":2340,"v":1.0},{"c":26,"x":2348,"v":0.55},{"c":26,"x":2344,"v":0.05},{"c":26,"x":2360,"v":0.5},
{"c":27,"x":2380,"v":0.15},{"c":27,"x":2395,"v":0.35},{"c":27,"x":2405,"v":0.55},{"c":27,"x":2390,"v":0.05},
{"c":28,"x":2435,"v":0.2},
{"c":29,"x":2470,"v":0.35},{"c":29,"x":2480,"v":0.25},{"c":29,"x":2495,"v":0.25}],
"NM":[{"c":1,"x":11,"v":0.2},{"c":1,"x":11,"v":0},{"c":1,"x":24,"v":0.5},{"c":1,"x":38,"v":0.6},{"c":1,"x":53,"v":0.5},{"c":1,"x":75,"v":0.5},{"c":1,"x":81,"v":0.2},{"c":1,"x":90,"v":1.45},{"c":1,"x":99,"v":0.5},{"c":1,"x":109,"v":0.4},{"c":1,"x":128,"v":0.5},{"c":1,"x":124,"v":0.2},{"c":1,"x":137,"v":3.05},
{"c":2,"x":162,"v":0.85},{"c":2,"x":165,"v":0.7},{"c":2,"x":203,"v":0.4},{"c":2,"x":218,"v":1.2},{"c":2,"x":231,"v":0.3},{"c":2,"x":240,"v":0.3},{"c":2,"x":278,"v":0.3},
{"c":3,"x":300,"v":0.2},{"c":3,"x":303,"v":0.5},{"c":3,"x":325,"v":0.4},{"c":3,"x":334,"v":0.95},{"c":3,"x":372,"v":2.75},{"c":3,"x":390,"v":0.4},{"c":3,"x":400,"v":2.45},{"c":3,"x":405,"v":1.35},
{"c":4,"x":437,"v":1.0},{"c":4,"x":480,"v":4.65},{"c":4,"x":503,"v":0},{"c":4,"x":518,"v":1.65},{"c":4,"x":526,"v":1.8},{"c":4,"x":522,"v":0.75},
{"c":5,"x":545,"v":3.75},{"c":5,"x":545,"v":0.25},{"c":5,"x":574,"v":0.5},{"c":5,"x":587,"v":1.2},{"c":5,"x":625,"v":0.2},{"c":5,"x":644,"v":5.65},{"c":5,"x":644,"v":2.75},{"c":5,"x":644,"v":0.75},{"c":5,"x":653,"v":0.85},
{"c":6,"x":672,"v":0.95},{"c":6,"x":706,"v":0.3},{"c":6,"x":728,"v":0.7},{"c":6,"x":738,"v":0.8},{"c":6,"x":743,"v":0.6},{"c":6,"x":756,"v":0.2},
{"c":7,"x":785,"v":1.4},{"c":7,"x":800,"v":0.4},{"c":7,"x":807,"v":1.3},{"c":7,"x":813,"v":3.3},{"c":7,"x":813,"v":2.75},{"c":7,"x":818,"v":2.05},{"c":7,"x":822,"v":0.05},{"c":7,"x":841,"v":0.4},{"c":7,"x":856,"v":0.05},{"c":7,"x":869,"v":2.3},{"c":7,"x":875,"v":0.8},
{"c":8,"x":895,"v":0.3},{"c":8,"x":901,"v":0.5},{"c":8,"x":916,"v":0.4},{"c":8,"x":925,"v":1.05},{"c":8,"x":944,"v":1.05},{"c":8,"x":957,"v":1.9},{"c":8,"x":969,"v":2.8},{"c":8,"x":963,"v":0.5},{"c":8,"x":972,"v":1.1},{"c":8,"x":991,"v":1.0},
{"c":9,"x":1010,"v":2.8},{"c":9,"x":1015,"v":2.2},{"c":9,"x":1030,"v":0.75},{"c":9,"x":1057,"v":1.2},{"c":9,"x":1075,"v":0.6},{"c":9,"x":1085,"v":0.1},{"c":9,"x":1100,"v":0.4},
{"c":10,"x":1119,"v":2.8},{"c":10,"x":1119,"v":1.1},{"c":10,"x":1122,"v":0.4},{"c":10,"x":1137,"v":0.2},
{"c":11,"x":1225,"v":0.85},{"c":11,"x":1230,"v":0.4},{"c":11,"x":1265,"v":0.65},{"c":11,"x":1295,"v":0.4},{"c":11,"x":1301,"v":1.0},
{"c":12,"x":1330,"v":5.05},{"c":12,"x":1338,"v":0.4},{"c":12,"x":1376,"v":0.75},{"c":12,"x":1382,"v":0.4},{"c":12,"x":1382,"v":0.05},{"c":12,"x":1385,"v":0.3},
{"c":13,"x":1420,"v":1.0},{"c":13,"x":1430,"v":0.75},
{"c":14,"x":1505,"v":0.9},{"c":14,"x":1535,"v":3.15},{"c":14,"x":1532,"v":1.95},{"c":14,"x":1526,"v":0.3},{"c":14,"x":1545,"v":0.2},{"c":14,"x":1558,"v":0.1},
{"c":15,"x":1590,"v":0.5},{"c":15,"x":1595,"v":0.4},{"c":15,"x":1610,"v":1.3},{"c":15,"x":1612,"v":0.3},{"c":15,"x":1629,"v":2.3},{"c":15,"x":1638,"v":1.5},{"c":15,"x":1644,"v":0.85},{"c":15,"x":1648,"v":0.3},{"c":15,"x":1633,"v":0.55},
{"c":16,"x":1672,"v":0.55},{"c":16,"x":1680,"v":0.7},{"c":16,"x":1705,"v":1.0},{"c":16,"x":1715,"v":1.0},{"c":16,"x":1720,"v":0.5},{"c":16,"x":1727,"v":0.1},
{"c":17,"x":1755,"v":0.45},{"c":17,"x":1779,"v":2.0},{"c":17,"x":1805,"v":0.2},
{"c":18,"x":1864,"v":0.2},
{"c":19,"x":1895,"v":0.4},{"c":19,"x":1900,"v":0.6},{"c":19,"x":1905,"v":0.3},{"c":19,"x":1923,"v":1.05},{"c":19,"x":1938,"v":0.5},
{"c":20,"x":1975,"v":1.5},{"c":20,"x":1985,"v":0.95},{"c":20,"x":1990,"v":0.6},{"c":20,"x":2000,"v":0.3},
{"c":21,"x":2035,"v":0.55},{"c":21,"x":2045,"v":0.95},{"c":21,"x":2050,"v":0.3},{"c":21,"x":2060,"v":1.05},{"c":21,"x":2065,"v":0.5},{"c":21,"x":2075,"v":0.3},{"c":21,"x":2085,"v":0.2},
{"c":22,"x":2110,"v":0.9},{"c":22,"x":2120,"v":0.85},
{"c":23,"x":2170,"v":0.75},{"c":23,"x":2180,"v":0.2},
{"c":24,"x":2230,"v":0.2},{"c":24,"x":2250,"v":0.4},
{"c":25,"x":2280,"v":1.15},{"c":25,"x":2285,"v":1.65},{"c":25,"x":2290,"v":2.75},{"c":25,"x":2300,"v":2.4},{"c":25,"x":2290,"v":0.75},{"c":25,"x":2295,"v":0.3},{"c":25,"x":2292,"v":0.05},
{"c":26,"x":2325,"v":1.15},{"c":26,"x":2330,"v":0.6},{"c":26,"x":2338,"v":0.4},{"c":26,"x":2347,"v":1.05},
{"c":27,"x":2380,"v":1.15},{"c":27,"x":2390,"v":0.85},{"c":27,"x":2400,"v":0.55},{"c":27,"x":2410,"v":0.1},
{"c":28,"x":2432,"v":0.55},
{"c":29,"x":2475,"v":0.2},{"c":29,"x":2480,"v":0.05},{"c":29,"x":2485,"v":2.1},{"c":29,"x":2505,"v":3.6}],
"FatPct":[{"c":1,"x":9,"v":0.05},{"c":1,"x":18,"v":0.15},{"c":1,"x":37,"v":0.95},{"c":1,"x":46,"v":0.65},{"c":1,"x":55,"v":1.2},{"c":1,"x":68,"v":0.35},{"c":1,"x":79,"v":0.15},{"c":1,"x":92,"v":0.45},{"c":1,"x":110,"v":0.95},{"c":1,"x":116,"v":0.65},{"c":1,"x":123,"v":0.35},{"c":1,"x":138,"v":0.15},{"c":1,"x":147,"v":1.2},{"c":1,"x":147,"v":0.35},{"c":1,"x":129,"v":0.55},
{"c":2,"x":162,"v":0.95},{"c":2,"x":197,"v":1.15},{"c":2,"x":212,"v":1.55},{"c":2,"x":221,"v":0.4},{"c":2,"x":239,"v":0.55},{"c":2,"x":276,"v":1.3},
{"c":3,"x":300,"v":0.95},{"c":3,"x":305,"v":0.55},{"c":3,"x":326,"v":0.85},{"c":3,"x":337,"v":0.05},{"c":3,"x":368,"v":0.6},{"c":3,"x":392,"v":0.8},{"c":3,"x":399,"v":0.45},{"c":3,"x":405,"v":0.25},{"c":3,"x":386,"v":0.45},
{"c":4,"x":436,"v":0},{"c":4,"x":478,"v":0.45},{"c":4,"x":502,"v":2.75},{"c":4,"x":515,"v":0.2},{"c":4,"x":524,"v":0.45},
{"c":5,"x":545,"v":0.05},{"c":5,"x":550,"v":0.45},{"c":5,"x":570,"v":1.6},{"c":5,"x":589,"v":0.4},{"c":5,"x":635,"v":2.5},{"c":5,"x":631,"v":0.15},{"c":5,"x":644,"v":0.35},{"c":5,"x":650,"v":0.05},{"c":5,"x":626,"v":0.05},
{"c":6,"x":672,"v":0.6},{"c":6,"x":699,"v":0.2},{"c":6,"x":708,"v":0.35},{"c":6,"x":736,"v":0.8},{"c":6,"x":730,"v":0.05},{"c":6,"x":745,"v":0},{"c":6,"x":723,"v":0.2},
{"c":7,"x":782,"v":0.05},{"c":7,"x":791,"v":3.2},{"c":7,"x":800,"v":1.4},{"c":7,"x":810,"v":0.35},{"c":7,"x":819,"v":0.15},{"c":7,"x":828,"v":0.95},{"c":7,"x":846,"v":1.2},{"c":7,"x":865,"v":0.35},{"c":7,"x":874,"v":0.35},{"c":7,"x":815,"v":0.3},
{"c":8,"x":895,"v":0.25},{"c":8,"x":899,"v":0.05},{"c":8,"x":907,"v":2.65},{"c":8,"x":907,"v":2.45},{"c":8,"x":920,"v":0.85},{"c":8,"x":944,"v":0.15},{"c":8,"x":951,"v":0.6},{"c":8,"x":966,"v":2.85},{"c":8,"x":970,"v":1.4},{"c":8,"x":975,"v":0.2},{"c":8,"x":962,"v":0.35},
{"c":9,"x":1010,"v":0.55},{"c":9,"x":1015,"v":0.05},{"c":9,"x":1020,"v":0.35},{"c":9,"x":1025,"v":0.25},{"c":9,"x":1054,"v":0.35},{"c":9,"x":1073,"v":0.55},{"c":9,"x":1080,"v":2.5},
{"c":10,"x":1118,"v":1.3},{"c":10,"x":1122,"v":0.95},{"c":10,"x":1127,"v":0.05},{"c":10,"x":1146,"v":0.05},
{"c":11,"x":1225,"v":1.15},{"c":11,"x":1228,"v":0.35},{"c":11,"x":1245,"v":0.2},{"c":11,"x":1282,"v":0.35},{"c":11,"x":1294,"v":0.35},
{"c":12,"x":1325,"v":2.0},{"c":12,"x":1340,"v":0.95},{"c":12,"x":1371,"v":1.4},{"c":12,"x":1371,"v":0.95},{"c":12,"x":1375,"v":0.6},{"c":12,"x":1375,"v":0.25},{"c":12,"x":1375,"v":0},{"c":12,"x":1367,"v":0.45},
{"c":13,"x":1420,"v":0.95},{"c":13,"x":1432,"v":0.65},
{"c":14,"x":1505,"v":0.3},{"c":14,"x":1520,"v":0.4},{"c":14,"x":1527,"v":0.65},{"c":14,"x":1540,"v":1.2},{"c":14,"x":1536,"v":0.95},{"c":14,"x":1551,"v":0.35},
{"c":15,"x":1590,"v":0.05},{"c":15,"x":1600,"v":0.55},{"c":15,"x":1610,"v":0.7},{"c":15,"x":1620,"v":1.95},{"c":15,"x":1635,"v":4.85},{"c":15,"x":1645,"v":1.15},{"c":15,"x":1648,"v":0},{"c":15,"x":1640,"v":0.95},
{"c":16,"x":1672,"v":0.45},{"c":16,"x":1680,"v":0.95},{"c":16,"x":1700,"v":0.05},{"c":16,"x":1720,"v":0.05},{"c":16,"x":1726,"v":1.05},{"c":16,"x":1735,"v":2.5},
{"c":17,"x":1755,"v":0.95},{"c":17,"x":1775,"v":0.55},{"c":17,"x":1798,"v":0.15},
{"c":18,"x":1860,"v":0.15},
{"c":19,"x":1895,"v":1.15},{"c":19,"x":1900,"v":0.35},{"c":19,"x":1905,"v":0.05},{"c":19,"x":1910,"v":0.45},{"c":19,"x":1925,"v":0.15},{"c":19,"x":1945,"v":0.6},
{"c":20,"x":1965,"v":0.85},{"c":20,"x":1980,"v":2.25},{"c":20,"x":1985,"v":0.85},{"c":20,"x":1990,"v":0.95},{"c":20,"x":1975,"v":0.45},{"c":20,"x":1995,"v":0.15},{"c":20,"x":1985,"v":0.05},
{"c":21,"x":2030,"v":0.35},{"c":21,"x":2040,"v":0.55},{"c":21,"x":2045,"v":0.05},{"c":21,"x":2055,"v":0.25},{"c":21,"x":2060,"v":1.45},{"c":21,"x":2065,"v":0.15},{"c":21,"x":2070,"v":0.45},{"c":21,"x":2075,"v":0.65},{"c":21,"x":2085,"v":0.35},{"c":21,"x":2072,"v":0.05},
{"c":22,"x":2110,"v":1.2},{"c":22,"x":2122,"v":1.75},
{"c":23,"x":2175,"v":4.4},{"c":23,"x":2175,"v":0.65},
{"c":24,"x":2220,"v":0.45},{"c":24,"x":2235,"v":0.15},{"c":24,"x":2245,"v":1.55},{"c":24,"x":2255,"v":0.25},
{"c":25,"x":2280,"v":0.2},{"c":25,"x":2285,"v":0.35},{"c":25,"x":2290,"v":1.15},{"c":25,"x":2295,"v":0.8},{"c":25,"x":2290,"v":0.05},{"c":25,"x":2310,"v":0.45},
{"c":26,"x":2325,"v":0.65},{"c":26,"x":2335,"v":0.05},{"c":26,"x":2340,"v":1.45},{"c":26,"x":2355,"v":0.15},{"c":26,"x":2330,"v":0.2},
{"c":27,"x":2375,"v":0.25},{"c":27,"x":2382,"v":0.95},{"c":27,"x":2390,"v":0.55},{"c":27,"x":2398,"v":1.2},{"c":27,"x":2402,"v":0.4},{"c":27,"x":2408,"v":2.0},
{"c":28,"x":2432,"v":0.55},
{"c":29,"x":2470,"v":0.5},{"c":29,"x":2478,"v":1.55},{"c":29,"x":2482,"v":0.05},{"c":29,"x":2500,"v":0.15}],
"PL":[{"c":1,"x":4,"v":0.45},{"c":1,"x":4,"v":0},{"c":1,"x":23,"v":0.75},{"c":1,"x":26,"v":0.95},{"c":1,"x":41,"v":0.2},{"c":1,"x":60,"v":0.15},{"c":1,"x":75,"v":2.5},{"c":1,"x":79,"v":1.75},{"c":1,"x":107,"v":0.2},{"c":1,"x":126,"v":2.0},{"c":1,"x":136,"v":0.75},{"c":1,"x":113,"v":0.35},
{"c":2,"x":160,"v":2.8},{"c":2,"x":189,"v":0},{"c":2,"x":202,"v":2.0},{"c":2,"x":211,"v":0.45},{"c":2,"x":226,"v":0.6},
{"c":3,"x":300,"v":0.15},{"c":3,"x":308,"v":1.55},{"c":3,"x":320,"v":0},{"c":3,"x":330,"v":0.75},{"c":3,"x":358,"v":1.65},{"c":3,"x":381,"v":0.15},{"c":3,"x":390,"v":0.75},{"c":3,"x":396,"v":1.3},{"c":3,"x":305,"v":0.15},
{"c":4,"x":440,"v":0.45},{"c":4,"x":466,"v":4.8},{"c":4,"x":504,"v":4.0},{"c":4,"x":517,"v":1.9},{"c":4,"x":522,"v":1.75},{"c":4,"x":498,"v":0.75},
{"c":5,"x":545,"v":3.45},{"c":5,"x":550,"v":0.45},{"c":5,"x":570,"v":0.15},{"c":5,"x":579,"v":1.4},{"c":5,"x":626,"v":0.45},{"c":5,"x":636,"v":4.55},{"c":5,"x":636,"v":3.2},{"c":5,"x":636,"v":1.0},{"c":5,"x":645,"v":0.95},
{"c":6,"x":668,"v":1.05},{"c":6,"x":698,"v":2.4},{"c":6,"x":720,"v":2.75},{"c":6,"x":730,"v":2.25},{"c":6,"x":722,"v":1.25},{"c":6,"x":749,"v":0.1},
{"c":7,"x":781,"v":1.3},{"c":7,"x":786,"v":0},{"c":7,"x":805,"v":3.6},{"c":7,"x":805,"v":2.8},{"c":7,"x":805,"v":2.05},{"c":7,"x":811,"v":0.6},{"c":7,"x":818,"v":0.85},{"c":7,"x":834,"v":0.15},{"c":7,"x":856,"v":3.1},{"c":7,"x":853,"v":0},{"c":7,"x":868,"v":1.3},
{"c":8,"x":895,"v":1.5},{"c":8,"x":900,"v":0.35},{"c":8,"x":909,"v":0.45},{"c":8,"x":918,"v":2.0},{"c":8,"x":932,"v":0.45},{"c":8,"x":947,"v":1.3},{"c":8,"x":962,"v":3.45},{"c":8,"x":969,"v":0.35},{"c":8,"x":981,"v":0.85},{"c":8,"x":956,"v":1.1},
{"c":9,"x":1010,"v":6.65},{"c":9,"x":1010,"v":3.25},{"c":9,"x":1025,"v":1.65},{"c":9,"x":1056,"v":1.3},{"c":9,"x":1075,"v":0.1},{"c":9,"x":1083,"v":0.15},
{"c":10,"x":1118,"v":1.45},{"c":10,"x":1122,"v":1.1},{"c":10,"x":1122,"v":0.5},{"c":10,"x":1136,"v":0},
{"c":11,"x":1225,"v":0.35},{"c":11,"x":1245,"v":0.8},{"c":11,"x":1286,"v":0.15},{"c":11,"x":1296,"v":0.8},
{"c":12,"x":1328,"v":4.0},{"c":12,"x":1340,"v":1.9},{"c":12,"x":1371,"v":1.45},{"c":12,"x":1377,"v":1.0},{"c":12,"x":1380,"v":0.5},{"c":12,"x":1377,"v":0},{"c":12,"x":1384,"v":0.2},
{"c":13,"x":1420,"v":0.75},{"c":13,"x":1430,"v":0},
{"c":14,"x":1505,"v":1.25},{"c":14,"x":1531,"v":2.0},{"c":14,"x":1522,"v":0.85},{"c":14,"x":1528,"v":0.35},{"c":14,"x":1535,"v":0},{"c":14,"x":1550,"v":0.45},
{"c":15,"x":1590,"v":0.35},{"c":15,"x":1600,"v":0.35},{"c":15,"x":1610,"v":0.35},{"c":15,"x":1622,"v":0.45},{"c":15,"x":1629,"v":2.5},{"c":15,"x":1641,"v":2.15},{"c":15,"x":1635,"v":0.75},{"c":15,"x":1645,"v":0.15},
{"c":16,"x":1672,"v":0.85},{"c":16,"x":1680,"v":0.2},{"c":16,"x":1700,"v":1.25},{"c":16,"x":1715,"v":0.5},{"c":16,"x":1722,"v":1.4},{"c":16,"x":1730,"v":0.45},
{"c":17,"x":1755,"v":1.1},{"c":17,"x":1778,"v":1.8},{"c":17,"x":1795,"v":0.5},
{"c":18,"x":1861,"v":0.1},
{"c":19,"x":1895,"v":0.75},{"c":19,"x":1900,"v":1.75},{"c":19,"x":1905,"v":0.45},{"c":19,"x":1925,"v":0.5},{"c":19,"x":1940,"v":1.4},{"c":19,"x":1897,"v":0.15},
{"c":20,"x":1972,"v":1.55},{"c":20,"x":1981,"v":1.25},{"c":20,"x":1985,"v":0.45},{"c":20,"x":1978,"v":0},
{"c":21,"x":2030,"v":0.45},{"c":21,"x":2040,"v":0.2},{"c":21,"x":2050,"v":0.8},{"c":21,"x":2060,"v":1.3},{"c":21,"x":2068,"v":0.85},{"c":21,"x":2075,"v":0.5},{"c":21,"x":2085,"v":0},{"c":21,"x":2045,"v":0.7},
{"c":22,"x":2108,"v":1.1},{"c":22,"x":2118,"v":2.0},
{"c":23,"x":2170,"v":0.35},{"c":23,"x":2180,"v":0.15},
{"c":24,"x":2225,"v":0.25},{"c":24,"x":2245,"v":1.25},{"c":24,"x":2250,"v":0.45},
{"c":25,"x":2280,"v":0.75},{"c":25,"x":2285,"v":1.3},{"c":25,"x":2290,"v":2.5},{"c":25,"x":2298,"v":1.65},{"c":25,"x":2295,"v":0.45},{"c":25,"x":2290,"v":0},{"c":25,"x":2305,"v":1.65},{"c":25,"x":2312,"v":1.2},
{"c":26,"x":2325,"v":0.45},{"c":26,"x":2335,"v":0},{"c":26,"x":2345,"v":0.15},{"c":26,"x":2350,"v":1.1},{"c":26,"x":2360,"v":0.15},
{"c":27,"x":2375,"v":0.15},{"c":27,"x":2385,"v":1.5},{"c":27,"x":2393,"v":1.4},{"c":27,"x":2400,"v":1.05},{"c":27,"x":2408,"v":0},
{"c":28,"x":2432,"v":0},
{"c":29,"x":2470,"v":0.5},{"c":29,"x":2480,"v":0.75},{"c":29,"x":2482,"v":0.15},{"c":29,"x":2505,"v":4.35}],
"ProPct":[{"c":1,"x":9,"v":0.15},{"c":1,"x":15,"v":0.35},{"c":1,"x":24,"v":0},{"c":1,"x":37,"v":0.35},{"c":1,"x":43,"v":1.8},{"c":1,"x":56,"v":0.15},{"c":1,"x":69,"v":0.25},{"c":1,"x":80,"v":0.15},{"c":1,"x":93,"v":0.9},{"c":1,"x":98,"v":0},{"c":1,"x":121,"v":2.1},{"c":1,"x":124,"v":0.35},{"c":1,"x":130,"v":1.0},{"c":1,"x":139,"v":1.2},{"c":1,"x":148,"v":1.35},{"c":1,"x":154,"v":0.45},{"c":1,"x":157,"v":1.1},
{"c":2,"x":161,"v":0.9},{"c":2,"x":213,"v":1.65},{"c":2,"x":217,"v":1.0},{"c":2,"x":213,"v":0.1},{"c":2,"x":235,"v":0.1},{"c":2,"x":278,"v":2.65},
{"c":3,"x":302,"v":1.9},{"c":3,"x":306,"v":0.1},{"c":3,"x":328,"v":0.9},{"c":3,"x":339,"v":0.05},{"c":3,"x":371,"v":1.85},{"c":3,"x":389,"v":1.45},{"c":3,"x":402,"v":1.15},{"c":3,"x":399,"v":0.25},
{"c":4,"x":439,"v":0.1},{"c":4,"x":482,"v":1.3},{"c":4,"x":506,"v":1.75},{"c":4,"x":528,"v":0.35},{"c":4,"x":528,"v":0.1},{"c":4,"x":532,"v":0.55},
{"c":5,"x":543,"v":0.95},{"c":5,"x":547,"v":0.35},{"c":5,"x":547,"v":0.1},{"c":5,"x":575,"v":0.1},{"c":5,"x":593,"v":0.1},{"c":5,"x":649,"v":1.5},{"c":5,"x":649,"v":0.55},{"c":5,"x":640,"v":0.35},{"c":5,"x":654,"v":0.1},
{"c":6,"x":677,"v":1.5},{"c":6,"x":686,"v":1.5},{"c":6,"x":714,"v":1.55},{"c":6,"x":729,"v":0.35},{"c":6,"x":736,"v":0.25},{"c":6,"x":747,"v":4.3},{"c":6,"x":760,"v":0.55},
{"c":7,"x":788,"v":1.0},{"c":7,"x":797,"v":0.85},{"c":7,"x":806,"v":0.75},{"c":7,"x":816,"v":1.8},{"c":7,"x":821,"v":0.25},{"c":7,"x":825,"v":0.75},{"c":7,"x":834,"v":0.55},{"c":7,"x":847,"v":0.75},{"c":7,"x":853,"v":0.55},{"c":7,"x":862,"v":0.6},{"c":7,"x":877,"v":1.3},
{"c":8,"x":895,"v":0.1},{"c":8,"x":908,"v":2.2},{"c":8,"x":914,"v":1.5},{"c":8,"x":927,"v":0.05},{"c":8,"x":946,"v":0.45},{"c":8,"x":958,"v":0.35},{"c":8,"x":970,"v":1.65},{"c":8,"x":973,"v":1.15},{"c":8,"x":977,"v":0.15},{"c":8,"x":992,"v":0.35},
{"c":9,"x":1008,"v":1.0},{"c":9,"x":1012,"v":0.7},{"c":9,"x":1020,"v":0.45},{"c":9,"x":1025,"v":1.65},{"c":9,"x":1062,"v":0.1},{"c":9,"x":1081,"v":0.1},{"c":9,"x":1088,"v":2.2},
{"c":10,"x":1122,"v":2.3},{"c":10,"x":1122,"v":1.3},{"c":10,"x":1125,"v":0.1},{"c":10,"x":1140,"v":0.55},
{"c":11,"x":1225,"v":0.15},{"c":11,"x":1242,"v":0.1},{"c":11,"x":1298,"v":1.75},{"c":11,"x":1307,"v":0.55},
{"c":12,"x":1328,"v":1.1},{"c":12,"x":1344,"v":0.7},{"c":12,"x":1381,"v":1.1},{"c":12,"x":1381,"v":0.8},{"c":12,"x":1385,"v":0.35},{"c":12,"x":1381,"v":0.05},{"c":12,"x":1390,"v":0.1},
{"c":13,"x":1420,"v":0.55},{"c":13,"x":1432,"v":0.8},
{"c":14,"x":1505,"v":0.55},{"c":14,"x":1530,"v":0.55},{"c":14,"x":1539,"v":2.45},{"c":14,"x":1539,"v":1.15},{"c":14,"x":1557,"v":1.15},{"c":14,"x":1533,"v":0.15},{"c":14,"x":1567,"v":0.45},
{"c":15,"x":1590,"v":0.7},{"c":15,"x":1604,"v":0.55},{"c":15,"x":1613,"v":1.85},{"c":15,"x":1622,"v":1.1},{"c":15,"x":1641,"v":1.8},{"c":15,"x":1648,"v":1.6},{"c":15,"x":1652,"v":1.1},{"c":15,"x":1644,"v":1.7},
{"c":16,"x":1674,"v":0.25},{"c":16,"x":1700,"v":0.95},{"c":16,"x":1730,"v":0.8},{"c":16,"x":1734,"v":0.1},{"c":16,"x":1736,"v":0},{"c":16,"x":1672,"v":1.0},
{"c":17,"x":1755,"v":1.0},{"c":17,"x":1785,"v":1.5},{"c":17,"x":1808,"v":0.35},
{"c":18,"x":1860,"v":0},
{"c":19,"x":1895,"v":1.5},{"c":19,"x":1895,"v":1.15},{"c":19,"x":1900,"v":0.9},{"c":19,"x":1905,"v":0.35},{"c":19,"x":1920,"v":0},{"c":19,"x":1928,"v":0.25},{"c":19,"x":1937,"v":0.4},
{"c":20,"x":1980,"v":0.75},{"c":20,"x":1985,"v":1.0},{"c":20,"x":1990,"v":2.25},{"c":20,"x":1995,"v":0.45},{"c":20,"x":2000,"v":0.1},{"c":20,"x":1990,"v":0.35},
{"c":21,"x":2030,"v":2.2},{"c":21,"x":2035,"v":1.45},{"c":21,"x":2045,"v":0.55},{"c":21,"x":2052,"v":0.4},{"c":21,"x":2058,"v":0.15},{"c":21,"x":2063,"v":4.1},{"c":21,"x":2070,"v":0.25},{"c":21,"x":2075,"v":0},{"c":21,"x":2080,"v":0.3},{"c":21,"x":2088,"v":0.1},
{"c":22,"x":2110,"v":0.1},{"c":22,"x":2120,"v":1.1},
{"c":23,"x":2175,"v":2.8},{"c":23,"x":2175,"v":0.55},
{"c":24,"x":2225,"v":0.35},{"c":24,"x":2240,"v":0.35},{"c":24,"x":2250,"v":1.35},
{"c":25,"x":2280,"v":0.45},{"c":25,"x":2285,"v":0.7},{"c":25,"x":2292,"v":0.55},{"c":25,"x":2300,"v":0.35},{"c":25,"x":2310,"v":0.75},{"c":25,"x":2288,"v":0.25},
{"c":26,"x":2325,"v":1.2},{"c":26,"x":2332,"v":0.55},{"c":26,"x":2340,"v":1.0},{"c":26,"x":2345,"v":1.15},{"c":26,"x":2330,"v":0.1},{"c":26,"x":2355,"v":1.3},
{"c":27,"x":2375,"v":1.4},{"c":27,"x":2385,"v":5.1},{"c":27,"x":2395,"v":0.35},{"c":27,"x":2405,"v":2.85},{"c":27,"x":2407,"v":0.25},
{"c":28,"x":2432,"v":0.7},
{"c":29,"x":2470,"v":0},{"c":29,"x":2478,"v":1.15},{"c":29,"x":2482,"v":0.4},{"c":29,"x":2485,"v":0.15},{"c":29,"x":2500,"v":0.35}]
},
"concat":[
{"title":{"text":"DPR"},"width":546,"height":93,"encoding":{"x":{"field":"x","type":"quantitative","scale":{"domain":[0,2512],"nice":false,"zero":false},"axis":{"values":[79,227,356,477,598,719,835,948,1057,1162,1268,1367,1455,1539,1624,1708,1786,1922,2062,2185,2296,2391,2486],"labelExpr":"[1,2,3,4,5,6,7,8,9,10,11,12,13,14,15,16,17,19,21,23,25,27,29][indexof([79,227,356,477,598,719,835,948,1057,1162,1268,1367,1455,1539,1624,1708,1786,1922,2062,2185,2296,2391,2486], datum.value)]"}}},"layer":[
 {"data":{"name":"bounds"},"mark":{"type":"rule","color":"#dddddd","strokeWidth":1},"encoding":{}},
 {"data":{"name":"DPR"},"mark":{"type":"point"},"encoding":{"y":{"field":"v","type":"quantitative","scale":{"domain":[-0.25,3.92],"nice":false,"zero":false},"axis":{"title":"Regression -log10 P","values":[0.5,1,1.5,2,2.5,3,3.5],"format":".1~f","labelOverlap":false}},"color":{"field":"c","type":"nominal","scale":{"domain":[1,2,3,4,5,6,7,8,9,10,11,12,13,14,15,16,17,18,19,20,21,22,23,24,25,26,27,28,29]},"legend":null}}},
 {"data":{"values":[{"x":0}]},"mark":{"type":"rule","color":"#555555","strokeWidth":2.5},"encoding":{"x2":{"datum":2512},"y":{"datum":2.55,"type":"quantitative","axis":{"title":"Regression -log10 P","values":[0.5,1,1.5,2,2.5,3,3.5],"format":".1~f","labelOverlap":false}}}}]},
{"title":{"text":"RFI"},"width":546,"height":93,"encoding":{"x":{"field":"x","type":"quantitative","scale":{"domain":[0,2512],"nice":false,"zero":false},"axis":{"values":[79,227,356,477,598,719,835,948,1057,1162,1268,1367,1455,1539,1624,1708,1786,1922,2062,2185,2296,2391,2486],"labelExpr":"[1,2,3,4,5,6,7,8,9,10,11,12,13,14,15,16,17,19,21,23,25,27,29][indexof([79,227,356,477,598,719,835,948,1057,1162,1268,1367,1455,1539,1624,1708,1786,1922,2062,2185,2296,2391,2486], datum.value)]"}}},"layer":[
 {"data":{"name":"bounds"},"mark":{"type":"rule","color":"#dddddd","strokeWidth":1},"encoding":{}},
 {"data":{"name":"RFI"},"mark":{"type":"point"},"encoding":{"y":{"field":"v","type":"quantitative","scale":{"domain":[-0.6,15.9],"nice":false,"zero":false},"axis":{"title":"Regression -log10 P","values":[2,4,6,8,10,12,14],"format":"d","labelOverlap":false}},"color":{"field":"c","type":"nominal","scale":{"domain":[1,2,3,4,5,6,7,8,9,10,11,12,13,14,15,16,17,18,19,20,21,22,23,24,25,26,27,28,29]},"legend":null}}},
 {"data":{"values":[{"x":0}]},"mark":{"type":"rule","color":"#555555","strokeWidth":2.5},"encoding":{"x2":{"datum":2512},"y":{"datum":2.7,"type":"quantitative","axis":{"title":"Regression -log10 P","values":[2,4,6,8,10,12,14],"format":"d","labelOverlap":false}}}}]},
{"title":{"text":"CCR"},"width":546,"height":93,"encoding":{"x":{"field":"x","type":"quantitative","scale":{"domain":[0,2512],"nice":false,"zero":false},"axis":{"values":[79,227,356,477,598,719,835,948,1057,1162,1268,1367,1455,1539,1624,1708,1786,1922,2062,2185,2296,2391,2486],"labelExpr":"[1,2,3,4,5,6,7,8,9,10,11,12,13,14,15,16,17,19,21,23,25,27,29][indexof([79,227,356,477,598,719,835,948,1057,1162,1268,1367,1455,1539,1624,1708,1786,1922,2062,2185,2296,2391,2486], datum.value)]"}}},"layer":[
 {"data":{"name":"bounds"},"mark":{"type":"rule","color":"#dddddd","strokeWidth":1},"encoding":{}},
 {"data":{"name":"CCR"},"mark":{"type":"point"},"encoding":{"y":{"field":"v","type":"quantitative","scale":{"domain":[-0.3,4.9],"nice":false,"zero":false},"axis":{"title":"Regression -log10 P","values":[1,2,3,4],"format":"d","labelOverlap":false}},"color":{"field":"c","type":"nominal","scale":{"domain":[1,2,3,4,5,6,7,8,9,10,11,12,13,14,15,16,17,18,19,20,21,22,23,24,25,26,27,28,29]},"legend":null}}},
 {"data":{"values":[{"x":0}]},"mark":{"type":"rule","color":"#555555","strokeWidth":2.5},"encoding":{"x2":{"datum":2512},"y":{"datum":2.55,"type":"quantitative","axis":{"title":"Regression -log10 P","values":[1,2,3,4],"format":"d","labelOverlap":false}}}}]},
{"title":{"text":"DMI"},"width":546,"height":93,"encoding":{"x":{"field":"x","type":"quantitative","scale":{"domain":[0,2512],"nice":false,"zero":false},"axis":{"values":[79,227,356,477,598,719,835,948,1057,1162,1268,1367,1455,1539,1624,1708,1786,1922,2062,2185,2296,2391,2486],"labelExpr":"[1,2,3,4,5,6,7,8,9,10,11,12,13,14,15,16,17,19,21,23,25,27,29][indexof([79,227,356,477,598,719,835,948,1057,1162,1268,1367,1455,1539,1624,1708,1786,1922,2062,2185,2296,2391,2486], datum.value)]"}}},"layer":[
 {"data":{"name":"bounds"},"mark":{"type":"rule","color":"#dddddd","strokeWidth":1},"encoding":{}},
 {"data":{"name":"DMI"},"mark":{"type":"point"},"encoding":{"y":{"field":"v","type":"quantitative","scale":{"domain":[-0.3,5.35],"nice":false,"zero":false},"axis":{"title":"Regression -log10 P","values":[1,2,3,4,5],"format":"d","labelOverlap":false}},"color":{"field":"c","type":"nominal","scale":{"domain":[1,2,3,4,5,6,7,8,9,10,11,12,13,14,15,16,17,18,19,20,21,22,23,24,25,26,27,28,29]},"legend":null}}},
 {"data":{"values":[{"x":0}]},"mark":{"type":"rule","color":"#555555","strokeWidth":2.5},"encoding":{"x2":{"datum":2512},"y":{"datum":2.85,"type":"quantitative","axis":{"title":"Regression -log10 P","values":[1,2,3,4,5],"format":"d","labelOverlap":false}}}}]},
{"title":{"text":"HCR"},"width":546,"height":93,"encoding":{"x":{"field":"x","type":"quantitative","scale":{"domain":[0,2512],"nice":false,"zero":false},"axis":{"values":[79,227,356,477,598,719,835,948,1057,1162,1268,1367,1455,1539,1624,1708,1786,1922,2062,2185,2296,2391,2486],"labelExpr":"[1,2,3,4,5,6,7,8,9,10,11,12,13,14,15,16,17,19,21,23,25,27,29][indexof([79,227,356,477,598,719,835,948,1057,1162,1268,1367,1455,1539,1624,1708,1786,1922,2062,2185,2296,2391,2486], datum.value)]"}}},"layer":[
 {"data":{"name":"bounds"},"mark":{"type":"rule","color":"#dddddd","strokeWidth":1},"encoding":{}},
 {"data":{"name":"HCR"},"mark":{"type":"point"},"encoding":{"y":{"field":"v","type":"quantitative","scale":{"domain":[-0.3,4.55],"nice":false,"zero":false},"axis":{"title":"Regression -log10 P","values":[0.5,1,1.5,2,2.5,3,3.5,4],"format":".1~f","labelOverlap":false,"labelExpr":"datum.value % 1 ? datum.label : ''"}},"color":{"field":"c","type":"nominal","scale":{"domain":[1,2,3,4,5,6,7,8,9,10,11,12,13,14,15,16,17,18,19,20,21,22,23,24,25,26,27,28,29]},"legend":null}}},
 {"data":{"values":[{"x":0}]},"mark":{"type":"rule","color":"#555555","strokeWidth":2.5},"encoding":{"x2":{"datum":2512},"y":{"datum":2.55,"type":"quantitative","axis":{"title":"Regression -log10 P","values":[0.5,1,1.5,2,2.5,3,3.5,4],"format":".1~f","labelOverlap":false,"labelExpr":"datum.value % 1 ? datum.label : ''"}}}}]},
{"title":{"text":"SCS"},"width":546,"height":93,"encoding":{"x":{"field":"x","type":"quantitative","scale":{"domain":[0,2512],"nice":false,"zero":false},"axis":{"values":[79,227,356,477,598,719,835,948,1057,1162,1268,1367,1455,1539,1624,1708,1786,1922,2062,2185,2296,2391,2486],"labelExpr":"[1,2,3,4,5,6,7,8,9,10,11,12,13,14,15,16,17,19,21,23,25,27,29][indexof([79,227,356,477,598,719,835,948,1057,1162,1268,1367,1455,1539,1624,1708,1786,1922,2062,2185,2296,2391,2486], datum.value)]"}}},"layer":[
 {"data":{"name":"bounds"},"mark":{"type":"rule","color":"#dddddd","strokeWidth":1},"encoding":{}},
 {"data":{"name":"SCS"},"mark":{"type":"point"},"encoding":{"y":{"field":"v","type":"quantitative","scale":{"domain":[-0.3,4.85],"nice":false,"zero":false},"axis":{"title":"Regression -log10 P","values":[1,2,3,4],"format":"d","labelOverlap":false}},"color":{"field":"c","type":"nominal","scale":{"domain":[1,2,3,4,5,6,7,8,9,10,11,12,13,14,15,16,17,18,19,20,21,22,23,24,25,26,27,28,29]},"legend":null}}},
 {"data":{"values":[{"x":0}]},"mark":{"type":"rule","color":"#555555","strokeWidth":2.5},"encoding":{"x2":{"datum":2512},"y":{"datum":2.55,"type":"quantitative","axis":{"title":"Regression -log10 P","values":[1,2,3,4],"format":"d","labelOverlap":false}}}}]},
{"title":{"text":"NM"},"width":546,"height":93,"encoding":{"x":{"field":"x","type":"quantitative","scale":{"domain":[0,2512],"nice":false,"zero":false},"axis":{"values":[79,227,356,477,598,719,835,948,1057,1162,1268,1367,1455,1539,1624,1708,1786,1922,2062,2185,2296,2391,2486],"labelExpr":"[1,2,3,4,5,6,7,8,9,10,11,12,13,14,15,16,17,19,21,23,25,27,29][indexof([79,227,356,477,598,719,835,948,1057,1162,1268,1367,1455,1539,1624,1708,1786,1922,2062,2185,2296,2391,2486], datum.value)]"}}},"layer":[
 {"data":{"name":"bounds"},"mark":{"type":"rule","color":"#dddddd","strokeWidth":1},"encoding":{}},
 {"data":{"name":"NM"},"mark":{"type":"point"},"encoding":{"y":{"field":"v","type":"quantitative","scale":{"domain":[-0.27,5.95],"nice":false,"zero":false},"axis":{"title":"Regression -log10 P","values":[1,2,3,4,5],"format":"d","labelOverlap":false}},"color":{"field":"c","type":"nominal","scale":{"domain":[1,2,3,4,5,6,7,8,9,10,11,12,13,14,15,16,17,18,19,20,21,22,23,24,25,26,27,28,29]},"legend":null}}},
 {"data":{"values":[{"x":0}]},"mark":{"type":"rule","color":"#555555","strokeWidth":2.5},"encoding":{"x2":{"datum":2512},"y":{"datum":2.55,"type":"quantitative","axis":{"title":"Regression -log10 P","values":[1,2,3,4,5],"format":"d","labelOverlap":false}}}}]},
{"title":{"text":"FatPct"},"width":546,"height":93,"encoding":{"x":{"field":"x","type":"quantitative","scale":{"domain":[0,2512],"nice":false,"zero":false},"axis":{"values":[79,227,356,477,598,719,835,948,1057,1162,1268,1367,1455,1539,1624,1708,1786,1922,2062,2185,2296,2391,2486],"labelExpr":"[1,2,3,4,5,6,7,8,9,10,11,12,13,14,15,16,17,19,21,23,25,27,29][indexof([79,227,356,477,598,719,835,948,1057,1162,1268,1367,1455,1539,1624,1708,1786,1922,2062,2185,2296,2391,2486], datum.value)]"}}},"layer":[
 {"data":{"name":"bounds"},"mark":{"type":"rule","color":"#dddddd","strokeWidth":1},"encoding":{}},
 {"data":{"name":"FatPct"},"mark":{"type":"point"},"encoding":{"y":{"field":"v","type":"quantitative","scale":{"domain":[-0.27,4.95],"nice":false,"zero":false},"axis":{"title":"Regression -log10 P","values":[1,2,3,4],"format":"d","labelOverlap":false}},"color":{"field":"c","type":"nominal","scale":{"domain":[1,2,3,4,5,6,7,8,9,10,11,12,13,14,15,16,17,18,19,20,21,22,23,24,25,26,27,28,29]},"legend":null}}},
 {"data":{"values":[{"x":0}]},"mark":{"type":"rule","color":"#555555","strokeWidth":2.5},"encoding":{"x2":{"datum":2512},"y":{"datum":2.6,"type":"quantitative","axis":{"title":"Regression -log10 P","values":[1,2,3,4],"format":"d","labelOverlap":false}}}}]},
{"title":{"text":"PL"},"width":546,"height":93,"encoding":{"x":{"field":"x","type":"quantitative","scale":{"domain":[0,2512],"nice":false,"zero":false},"axis":{"values":[79,227,356,477,598,719,835,948,1057,1162,1268,1367,1455,1539,1624,1708,1786,1922,2062,2185,2296,2391,2486],"labelExpr":"[1,2,3,4,5,6,7,8,9,10,11,12,13,14,15,16,17,19,21,23,25,27,29][indexof([79,227,356,477,598,719,835,948,1057,1162,1268,1367,1455,1539,1624,1708,1786,1922,2062,2185,2296,2391,2486], datum.value)]"}}},"layer":[
 {"data":{"name":"bounds"},"mark":{"type":"rule","color":"#dddddd","strokeWidth":1},"encoding":{}},
 {"data":{"name":"PL"},"mark":{"type":"point"},"encoding":{"y":{"field":"v","type":"quantitative","scale":{"domain":[-0.4,6.85],"nice":false,"zero":false},"axis":{"title":"Regression -log10 P","values":[1,2,3,4,5,6],"format":"d","labelOverlap":false}},"color":{"field":"c","type":"nominal","scale":{"domain":[1,2,3,4,5,6,7,8,9,10,11,12,13,14,15,16,17,18,19,20,21,22,23,24,25,26,27,28,29]},"legend":null}}},
 {"data":{"values":[{"x":0}]},"mark":{"type":"rule","color":"#555555","strokeWidth":2.5},"encoding":{"x2":{"datum":2512},"y":{"datum":2.55,"type":"quantitative","axis":{"title":"Regression -log10 P","values":[1,2,3,4,5,6],"format":"d","labelOverlap":false}}}}]},
{"title":{"text":"ProPct"},"width":546,"height":93,"encoding":{"x":{"field":"x","type":"quantitative","scale":{"domain":[0,2512],"nice":false,"zero":false},"axis":{"values":[79,227,356,477,598,719,835,948,1057,1162,1268,1367,1455,1539,1624,1708,1786,1922,2062,2185,2296,2391,2486],"labelExpr":"[1,2,3,4,5,6,7,8,9,10,11,12,13,14,15,16,17,19,21,23,25,27,29][indexof([79,227,356,477,598,719,835,948,1057,1162,1268,1367,1455,1539,1624,1708,1786,1922,2062,2185,2296,2391,2486], datum.value)]"}}},"layer":[
 {"data":{"name":"bounds"},"mark":{"type":"rule","color":"#dddddd","strokeWidth":1},"encoding":{}},
 {"data":{"name":"ProPct"},"mark":{"type":"point"},"encoding":{"y":{"field":"v","type":"quantitative","scale":{"domain":[-0.35,5.3],"nice":false,"zero":false},"axis":{"title":"Regression -log10 P","values":[1,2,3,4,5],"format":"d","labelOverlap":false}},"color":{"field":"c","type":"nominal","scale":{"domain":[1,2,3,4,5,6,7,8,9,10,11,12,13,14,15,16,17,18,19,20,21,22,23,24,25,26,27,28,29]},"legend":null}}},
 {"data":{"values":[{"x":0}]},"mark":{"type":"rule","color":"#555555","strokeWidth":2.5},"encoding":{"x2":{"datum":2512},"y":{"datum":2.55,"type":"quantitative","axis":{"title":"Regression -log10 P","values":[1,2,3,4,5],"format":"d","labelOverlap":false}}}}]}
],
"columns":2,
"bounds":"flush",
"spacing":{"row":38,"column":84}
}
